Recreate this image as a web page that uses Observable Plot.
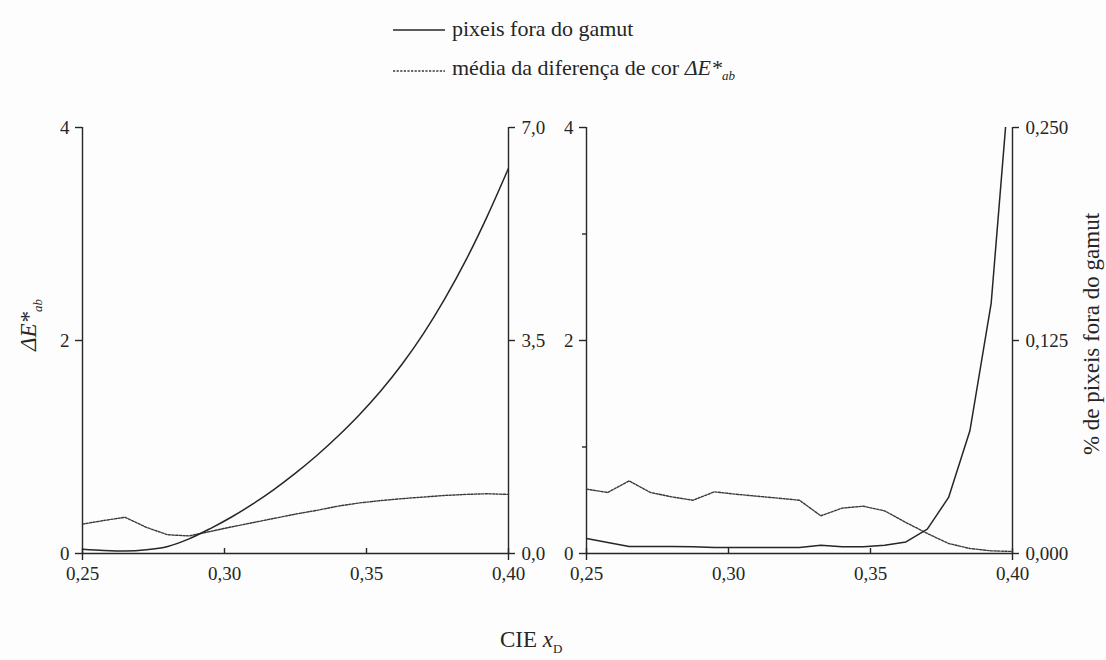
<!DOCTYPE html>
<html>
<head>
<meta charset="utf-8">
<script src="https://cdn.jsdelivr.net/npm/d3@7"></script>
<script src="https://cdn.jsdelivr.net/npm/@observablehq/plot@0.6"></script>
<style>
  html, body { margin: 0; padding: 0; background: #fdfdfd; }
  #chart { position: relative; width: 1106px; height: 660px; overflow: hidden;
           font-family: "Liberation Serif", "Times New Roman", serif; color: #262626; }
  .abs { position: absolute; }
  .abs svg { overflow: visible; }
  .legend { font-size: 22px; }
  .legend .row { display: flex; align-items: center; height: 41px; white-space: nowrap; }
  .legend .row svg { margin-right: 7px; }
  .legend sub, .xlabel sub { font-size: 13px; }
  .xlabel { font-size: 23px; white-space: nowrap; }
  .ylabel { font-size: 23px; white-space: nowrap; transform: translate(-50%, -50%) rotate(-90deg); }
</style>
</head>
<body>
<div id="chart"></div>
<script>
// CIE x_D sample positions shared by both panels
const xD = [0.25, 0.2575, 0.265, 0.2725, 0.28, 0.2875, 0.295, 0.3025, 0.31, 0.3175, 0.325,
            0.3325, 0.34, 0.3475, 0.355, 0.3625, 0.37, 0.3775, 0.385, 0.3925, 0.40];

// Left panel: mean colour difference ΔE*ab and % of out-of-gamut pixels
const deltaELeft = [0.276, 0.31, 0.34, 0.245, 0.176, 0.165, 0.207, 0.25, 0.29, 0.33, 0.37,
                    0.405, 0.445, 0.475, 0.497, 0.515, 0.53, 0.545, 0.555, 0.561, 0.555];
const pixelsLeft = [0.07, 0.05, 0.04, 0.06, 0.115, 0.24, 0.41, 0.60, 0.815, 1.055, 1.32,
                    1.61, 1.93, 2.28, 2.67, 3.11, 3.61, 4.18, 4.82, 5.54, 6.33];

// Right panel
const deltaERight = [0.604, 0.573, 0.682, 0.573, 0.532, 0.50, 0.579, 0.557, 0.538, 0.52, 0.50,
                     0.354, 0.426, 0.444, 0.40, 0.291, 0.188, 0.094, 0.047, 0.025, 0.019];
const pixelsRight = [0.0088, 0.0065, 0.0041, 0.0041, 0.0041, 0.0039, 0.0035, 0.0035, 0.0035, 0.0035, 0.0035,
                     0.0049, 0.0039, 0.0039, 0.0049, 0.0068, 0.0143, 0.0329, 0.072, 0.147, 0.30];

// Axis ticks
const xTicks = [0.25, 0.30, 0.35, 0.40];
const deltaETicks = [0, 2, 4];
const deltaEMinorTicks = [1, 3];
const pixelTicksLeft = [0, 3.5, 7.0];
const pixelTicksRight = [0, 0.125, 0.25];
const deltaEMax = 4;

const ink = "#262626";
const dotInk = "#3a3a3a";
const dots = "2.2,1.4";
const comma = (v, digits) => v.toFixed(digits).replace(".", ",");

function panel({deltaE, pixels, pixelTicks, pixelDigits, minorTicks, marginLeft, marginRight, width, smooth}) {
  // the pixel series shares the ΔE frame: scale it so that the top pixel tick meets the top ΔE tick
  const k = deltaEMax / pixelTicks[pixelTicks.length - 1];
  const rows = xD.map((x, i) => ({x, dE: deltaE[i], px: pixels[i] * k}));
  const marks = [
    Plot.ruleY([0], {stroke: ink, strokeWidth: 1.4}),
    Plot.ruleX([xTicks[0], xTicks[xTicks.length - 1]], {stroke: ink, strokeWidth: 1.4, insetBottom: -7}),
    Plot.axisX({ticks: xTicks, tickSize: -5, tickPadding: 18, tickFormat: d => comma(d, 2),
                label: null, stroke: ink, strokeWidth: 1.4}),
    Plot.axisY({anchor: "left", ticks: deltaETicks, tickSize: 7, tickPadding: 6,
                tickFormat: d => String(d), label: null, stroke: ink, strokeWidth: 1.4}),
    Plot.axisY({anchor: "right", ticks: pixelTicks.map(p => p * k), tickSize: 6, tickPadding: 7,
                tickFormat: d => comma(d / k, pixelDigits), label: null, stroke: ink, strokeWidth: 1.4}),
    Plot.line(rows, {x: "x", y: "dE", stroke: dotInk, strokeWidth: 1.4, strokeDasharray: dots}),
    Plot.line(rows, {x: "x", y: "px", stroke: ink, strokeWidth: 1.5, clip: true,
                     curve: smooth ? "monotone-x" : "linear"})
  ];
  if (minorTicks) {
    marks.push(Plot.axisY({anchor: "left", ticks: minorTicks, tickSize: 4, tickFormat: () => "",
                           label: null, stroke: ink, strokeWidth: 1.4}));
  }
  return Plot.plot({
    width, height: 480,
    marginLeft, marginRight, marginTop: 27, marginBottom: 27,
    x: {domain: [xTicks[0], xTicks[xTicks.length - 1]]},
    y: {domain: [0, deltaEMax]},
    style: {background: "transparent", fontFamily: "'Liberation Serif', 'Times New Roman', serif",
            fontSize: "19px", color: ink, overflow: "visible"},
    marks
  });
}

const chart = document.getElementById("chart");

function place(node, left, top) {
  const wrap = document.createElement("div");
  wrap.className = "abs";
  wrap.style.left = left + "px";
  wrap.style.top = top + "px";
  wrap.appendChild(node);
  chart.appendChild(wrap);
  return wrap;
}

place(panel({deltaE: deltaELeft, pixels: pixelsLeft, pixelTicks: pixelTicksLeft, pixelDigits: 1,
             minorTicks: null, marginLeft: 82, marginRight: 52, width: 560, smooth: true}), 0, 100);
place(panel({deltaE: deltaERight, pixels: pixelsRight, pixelTicks: pixelTicksRight, pixelDigits: 3,
             minorTicks: deltaEMinorTicks, marginLeft: 41, marginRight: 94, width: 561, smooth: false}), 545, 100);

// Legend
const legend = document.createElement("div");
legend.className = "abs legend";
legend.style.left = "393px";
legend.style.top = "8px";
legend.innerHTML = `
  <div class="row"><svg width="52" height="6"><line x1="0" x2="52" y1="4" y2="4" stroke="${ink}" stroke-width="1.5"/></svg><span>pixeis fora do gamut</span></div>
  <div class="row"><svg width="52" height="6"><line x1="0" x2="52" y1="4" y2="4" stroke="${dotInk}" stroke-width="1.4" stroke-dasharray="${dots}"/></svg><span>média da diferença de cor <i>ΔE*</i><sub><i>ab</i></sub></span></div>`;
chart.appendChild(legend);

// Axis titles
const xl = document.createElement("div");
xl.className = "abs xlabel";
xl.style.left = "500px";
xl.style.top = "627px";
xl.innerHTML = `CIE <i>x</i><sub>D</sub>`;
chart.appendChild(xl);

const yl = document.createElement("div");
yl.className = "abs ylabel";
yl.style.left = "31px";
yl.style.top = "325px";
yl.innerHTML = `<i>ΔE*</i><sub style="font-size:13px"><i>ab</i></sub>`;
chart.appendChild(yl);

const yr = document.createElement("div");
yr.className = "abs ylabel";
yr.style.left = "1092px";
yr.style.top = "334px";
yr.textContent = "% de pixeis fora do gamut";
chart.appendChild(yr);
</script>
</body>
</html>
